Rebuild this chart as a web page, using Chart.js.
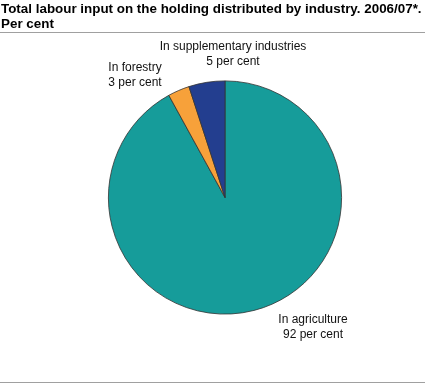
<!DOCTYPE html>
<html>
<head>
<meta charset="utf-8">
<script src="https://cdn.jsdelivr.net/npm/chart.js@4"></script>
<style>
  html, body { margin: 0; padding: 0; background: #fff; }
  #wrap { width: 429px; height: 385px; }
</style>
</head>
<body>
<div id="wrap"><canvas id="chart" width="429" height="385"></canvas></div>
<script>
const categories = ['In agriculture', 'In forestry', 'In supplementary industries'];
const values = [92, 3, 5];
const sliceColors = ['#169c9a', '#f7a13a', '#233e8f'];
const titleLines = ['Total labour input on the holding distributed by industry. 2006/07*.', 'Per cent'];

// label anchors (text centre, first line)
const labelSpots = [[313, 320], [135, 68], [233, 47]];

const decor = {
    id: 'decor',
    afterDraw(chart) {
        const ctx = chart.ctx;
        ctx.save();
        ctx.fillStyle = '#000';
        ctx.textBaseline = 'alphabetic';
        ctx.font = 'bold 13.4px "Liberation Sans", Arial, sans-serif';
        ctx.textAlign = 'left';
        ctx.fillText(titleLines[0], 1, 13);
        ctx.fillText(titleLines[1], 1, 28);

        ctx.strokeStyle = '#a0a0a0';
        ctx.lineWidth = 1;
        ctx.beginPath();
        ctx.moveTo(0, 32.5); ctx.lineTo(425, 32.5);
        ctx.moveTo(0, 382.5); ctx.lineTo(425, 382.5);
        ctx.stroke();

        ctx.textBaseline = 'middle';
        ctx.font = '12px "Liberation Sans", Arial, sans-serif';
        ctx.textAlign = 'center';
        ctx.fillStyle = '#111';
        categories.forEach((c, i) => {
            const [x, y] = labelSpots[i];
            ctx.fillText(c, x, y);
            ctx.fillText(values[i] + ' per cent', x, y + 15);
        });
        ctx.restore();
    }
};

new Chart(document.getElementById('chart'), {
    type: 'pie',
    data: {
        labels: categories,
        datasets: [{
            data: values,
            backgroundColor: sliceColors,
            borderColor: '#333',
            borderWidth: 0.8,
            hoverOffset: 0
        }]
    },
    options: {
        responsive: false,
        animation: false,
        rotation: 0,
        layout: { padding: { left: 108, right: 87, top: 80, bottom: 70 } },
        plugins: {
            legend: { display: false },
            tooltip: { enabled: false },
            title: { display: false }
        }
    },
    plugins: [decor]
});
</script>
</body>
</html>
